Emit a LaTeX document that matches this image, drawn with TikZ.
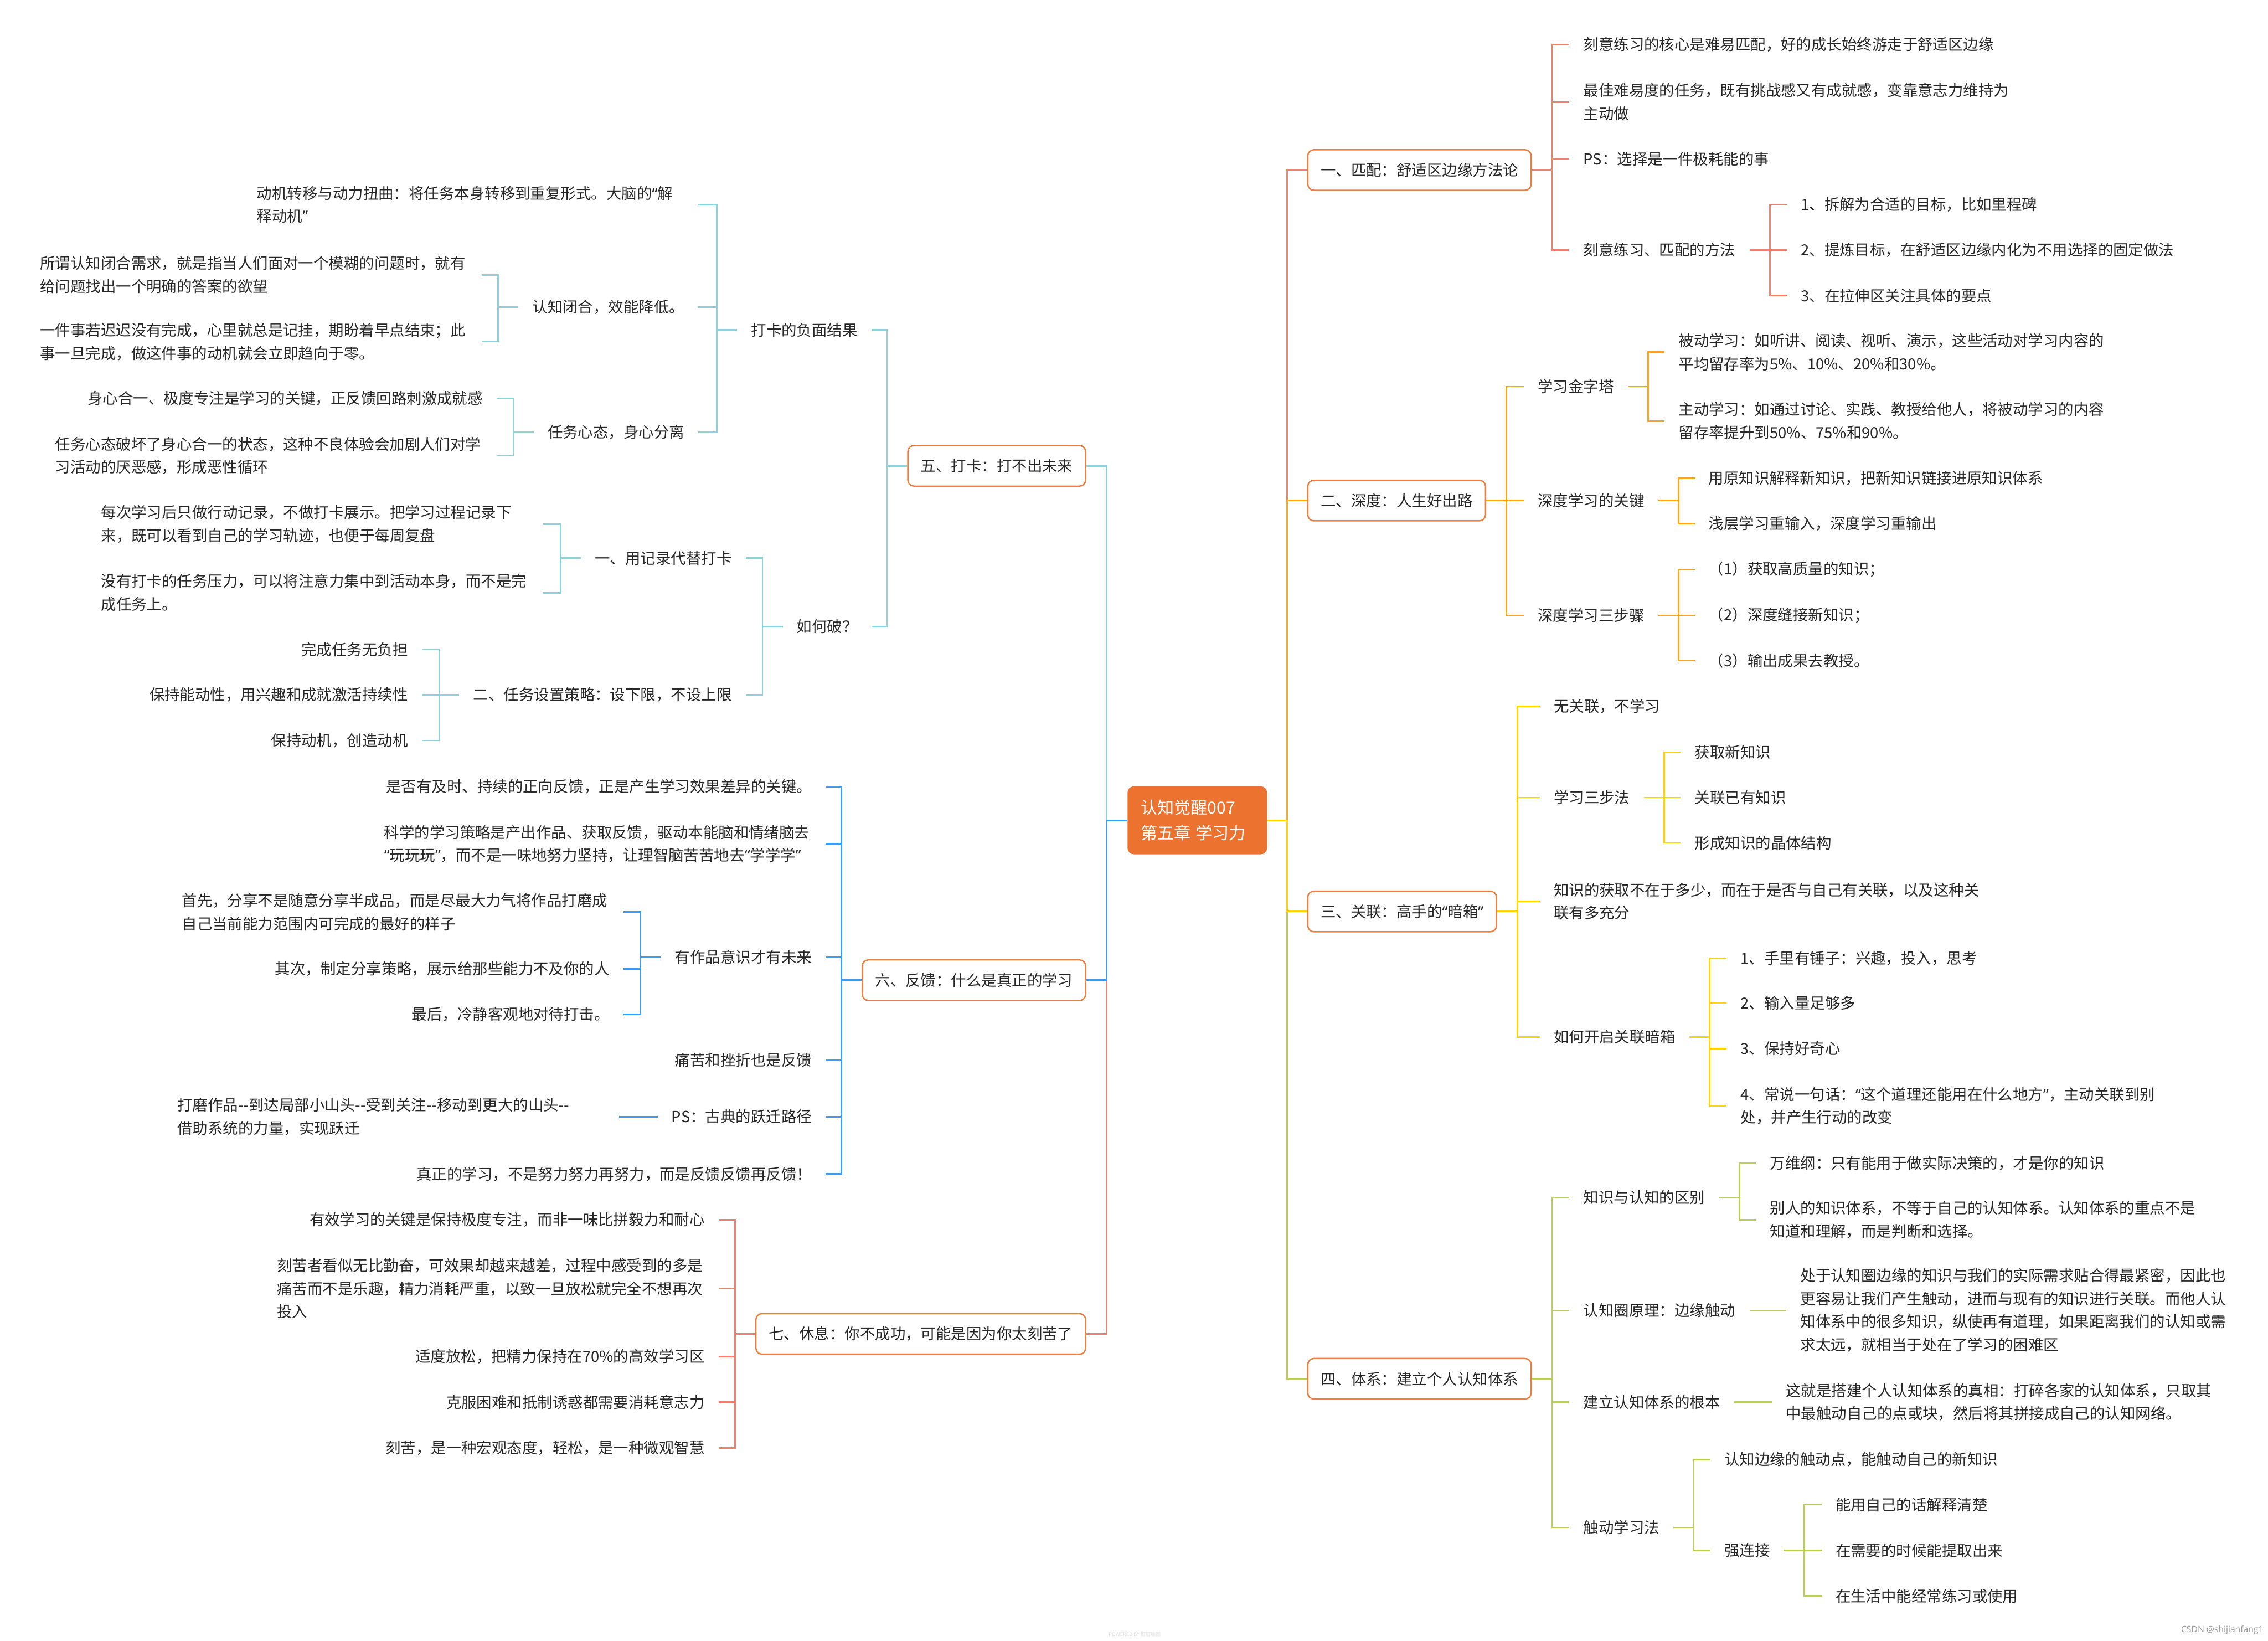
\documentclass[tikz,border=0pt]{standalone}
\usepackage{fontspec}
\setmainfont{Noto Sans CJK SC}
\newfontfamily\osans{Open Sans}
\newfontfamily\qf{Noto Sans}
\newcommand\qo{{\qf “}}
\newcommand\qc{{\qf ”}}
\newlength\U
\setlength\U{0.030434cm}
\definecolor{csal}{HTML}{F0806E}
\definecolor{cora}{HTML}{F6A623}
\definecolor{cyel}{HTML}{FFD400}
\definecolor{cgrn}{HTML}{B9CF58}
\definecolor{ctea}{HTML}{8ED3DB}
\definecolor{cblu}{HTML}{3C9CF0}
\definecolor{boxor}{HTML}{EE7D3E}
\definecolor{rootor}{HTML}{EC7230}
\definecolor{txtc}{HTML}{262626}
\newcommand\fs{\fontsize{9.1pt}{13.8pt}\selectfont}
\newcommand\linkR[3]{\draw[#1] (#2.east) -- ++(14,0) |- (#3.west);}
\newcommand\linkL[3]{\draw[#1] (#2.west) -- ++(-14,0) |- (#3.east);}
\newcommand\dd{\mbox{-}\mbox{-}}
\tikzset{
  txt/.style={font=\fs, text=txtc, inner xsep=9.5\U, inner ysep=1pt},
  tR/.style={txt, anchor=west},
  tL/.style={txt, anchor=east},
  wR/.style={tR, text width=256pt, align=left},
  wL/.style={tL, text width=256pt, align=left},
  mainbox/.style={font=\fs, text=txtc, draw=boxor, line width=0.8pt, rounded corners=3.6pt, fill=white, minimum height=28\U, inner xsep=8.9\U, inner ysep=0pt},
  mR/.style={mainbox, anchor=west},
  mL/.style={mainbox, anchor=east},
  rootbox/.style={font=\fontsize{10pt}{15pt}\selectfont, text=white, fill=rootor, rounded corners=3.8pt, minimum height=47\U, inner xsep=9.1\U, inner ysep=0pt, text width=78.3\U, align=left},
  lk/.style={line width=0.9pt},
  cA/.style={lk, draw=csal},
  cB/.style={lk, draw=cora},
  cC/.style={lk, draw=cyel},
  cD/.style={lk, draw=cgrn},
  cE/.style={lk, draw=ctea},
  cF/.style={lk, draw=cblu},
  cG/.style={lk, draw=csal},
}
\begin{document}
\begin{tikzpicture}[x=0.030434cm, y=-0.030434cm]
\useasboundingbox[fill=white] (0,0) rectangle (1568,1134.27);

% root
\node[rootbox] (r) at (827.75,567) {认知觉醒007\\第五章\hspace{0.3em}学习力};

% ---------- right side ----------
\node[mR] (m1) at (903.7,117.5) {一、匹配：舒适区边缘方法论};
\node[tR] (a1) at (1085,30.8) {刻意练习的核心是难易匹配，好的成长始终游走于舒适区边缘};
\node[wR] (a2) at (1085,70.5) {最佳难易度的任务，既有挑战感又有成就感，变靠意志力维持为\\主动做};
\node[tR] (a3) at (1085,109.7) {PS：选择是一件极耗能的事};
\node[tR] (a4) at (1085,172.8) {刻意练习、匹配的方法};
\node[tR] (a41) at (1235.3,141.3) {1、拆解为合适的目标，比如里程碑};
\node[tR] (a42) at (1235.3,172.8) {2、提炼目标，在舒适区边缘内化为不用选择的固定做法};
\node[tR] (a43) at (1235.3,204.3) {3、在拉伸区关注具体的要点};

\node[mR] (m2) at (903.7,346) {二、深度：人生好出路};
\node[tR] (b1) at (1053.5,267.2) {学习金字塔};
\node[wR] (b11) at (1150.8,243.4) {被动学习：如听讲、阅读、视听、演示，这些活动对学习内容的\\平均留存率为5\%、10\%、20\%和30\%。};
\node[wR] (b12) at (1150.8,291) {主动学习：如通过讨论、实践、教授给他人，将被动学习的内容\\留存率提升到50\%、75\%和90\%。};
\node[tR] (b2) at (1053.5,346) {深度学习的关键};
\node[tR] (b21) at (1171.6,330.6) {用原知识解释新知识，把新知识链接进原知识体系};
\node[tR] (b22) at (1171.6,362) {浅层学习重输入，深度学习重输出};
\node[tR] (b3) at (1053.5,425.3) {深度学习三步骤};
\node[tR] (b31) at (1171.6,393.5) {（1）获取高质量的知识；};
\node[tR] (b32) at (1171.6,425.3) {（2）深度缝接新知识；};
\node[tR] (b33) at (1171.6,456.7) {（3）输出成果去教授。};

\node[mR] (m3) at (903.7,630) {三、关联：高手的\qo 暗箱\qc};
\node[tR] (c1) at (1064.5,488.3) {无关联，不学习};
\node[tR] (c2) at (1064.5,551.2) {学习三步法};
\node[tR] (c21) at (1162,519.8) {获取新知识};
\node[tR] (c22) at (1162,551.2) {关联已有知识};
\node[tR] (c23) at (1162,582.6) {形成知识的晶体结构};
\node[wR] (c3) at (1064.5,623) {知识的获取不在于多少，而在于是否与自己有关联，以及这种关\\联有多充分};
\node[tR] (c4) at (1064.5,716.7) {如何开启关联暗箱};
\node[tR] (c41) at (1193.7,662.3) {1、手里有锤子：兴趣，投入，思考};
\node[tR] (c42) at (1193.7,693.3) {2、输入量足够多};
\node[tR] (c43) at (1193.7,724.8) {3、保持好奇心};
\node[wR] (c44) at (1193.7,764.4) {4、常说一句话：\qo 这个道理还能用在什么地方\qc，主动关联到别\\处，并产生行动的改变};

\node[mR] (m4) at (903.7,953) {四、体系：建立个人认知体系};
\node[tR] (d1) at (1085,827.7) {知识与认知的区别};
\node[tR] (d11) at (1214,803.9) {万维纲：只有能用于做实际决策的，才是你的知识};
\node[wR] (d12) at (1214,843) {别人的知识体系，不等于自己的认知体系。认知体系的重点不是\\知道和理解，而是判断和选择。};
\node[tR] (d2) at (1085,905.7) {认知圈原理：边缘触动};
\node[wR] (d21) at (1235,905.7) {处于认知圈边缘的知识与我们的实际需求贴合得最紧密，因此也\\更容易让我们产生触动，进而与现有的知识进行关联。而他人认\\知体系中的很多知识，纵使再有道理，如果距离我们的认知或需\\求太远，就相当于处在了学习的困难区};
\node[tR] (d3) at (1085,969.2) {建立认知体系的根本};
\node[wR] (d31) at (1225,969.2) {这就是搭建个人认知体系的真相：打碎各家的认知体系，只取其\\中最触动自己的点或块，然后将其拼接成自己的认知网络。};
\node[tR] (d4) at (1085,1055.8) {触动学习法};
\node[tR] (d41) at (1182.4,1009) {认知边缘的触动点，能触动自己的新知识};
\node[tR] (d42) at (1182.4,1071.7) {强连接};
\node[tR] (d421) at (1259.3,1040.1) {能用自己的话解释清楚};
\node[tR] (d422) at (1259.3,1071.7) {在需要的时候能提取出来};
\node[tR] (d423) at (1259.3,1103.1) {在生活中能经常练习或使用};

% ---------- left side ----------
\node[mL] (m5) at (751,322) {五、打卡：打不出未来};
\node[tL] (e1) at (602.6,228) {打卡的负面结果};
\node[wL] (e11) at (482.9,141.5) {动机转移与动力扭曲：将任务本身转移到重复形式。大脑的\qo 解\\释动机\qc};
\node[tL] (e12) at (482.9,212.3) {认知闭合，效能降低。};
\node[wL] (e121) at (333,190) {所谓认知闭合需求，就是指当人们面对一个模糊的问题时，就有\\给问题找出一个明确的答案的欲望};
\node[wL] (e122) at (333,236.2) {一件事若迟迟没有完成，心里就总是记挂，期盼着早点结束；此\\事一旦完成，做这件事的动机就会立即趋向于零。};
\node[tL] (e13) at (482.9,298.8) {任务心态，身心分离};
\node[tL] (e131) at (343.5,275.2) {身心合一、极度专注是学习的关键，正反馈回路刺激成就感};
\node[wL] (e132) at (343.5,315) {任务心态破坏了身心合一的状态，这种不良体验会加剧人们对学\\习活动的厌恶感，形成恶性循环};
\node[tL] (e2) at (602.6,433.1) {如何破？};
\node[tL] (e21) at (515.6,385.8) {一、用记录代替打卡};
\node[wL] (e211) at (375.2,362.2) {每次学习后只做行动记录，不做打卡展示。把学习过程记录下\\来，既可以看到自己的学习轨迹，也便于每周复盘};
\node[wL] (e212) at (375.2,409.7) {没有打卡的任务压力，可以将注意力集中到活动本身，而不是完\\成任务上。};
\node[tL] (e22) at (515.6,480.2) {二、任务设置策略：设下限，不设上限};
\node[tL] (e221) at (291.7,448.9) {完成任务无负担};
\node[tL] (e222) at (291.7,480.2) {保持能动性，用兴趣和成就激活持续性};
\node[tL] (e223) at (291.7,511.8) {保持动机，创造动机};

\node[mL] (m6) at (751,677.5) {六、反馈：什么是真正的学习};
\node[tL] (f1) at (570.9,543.7) {是否有及时、持续的正向反馈，正是产生学习效果差异的关键。};
\node[wL] (f2) at (570.9,583.3) {科学的学习策略是产出作品、获取反馈，驱动本能脑和情绪脑去\\\qo 玩玩玩\qc，而不是一味地努力坚持，让理智脑苦苦地去\qo 学学学\qc};
\node[tL] (f3) at (570.9,661.6) {有作品意识才有未来};
\node[wL] (f31) at (431.1,630.4) {首先，分享不是随意分享半成品，而是尽最大力气将作品打磨成\\自己当前能力范围内可完成的最好的样子};
\node[tL] (f32) at (431.1,669.7) {其次，制定分享策略，展示给那些能力不及你的人};
\node[tL] (f33) at (431.1,701.2) {最后，冷静客观地对待打击。};
\node[tL] (f4) at (570.9,732.7) {痛苦和挫折也是反馈};
\node[tL] (f5) at (570.9,771.9) {PS：古典的跃迁路径};
\node[wL] (f51) at (428,771.9) {打磨作品\dd 到达局部小山头\dd 受到关注\dd 移动到更大的山头\dd\\借助系统的力量，实现跃迁};
\node[tL] (f6) at (570.9,811.5) {真正的学习，不是努力努力再努力，而是反馈反馈再反馈！};

\node[mL] (m7) at (751,922) {七、休息：你不成功，可能是因为你太刻苦了};
\node[tL] (g1) at (496.9,843.2) {有效学习的关键是保持极度专注，而非一味比拼毅力和耐心};
\node[wL] (g2) at (496.9,890.7) {刻苦者看似无比勤奋，可效果却越来越差，过程中感受到的多是\\痛苦而不是乐趣，精力消耗严重，以致一旦放松就完全不想再次\\投入};
\node[tL] (g3) at (496.9,937.7) {适度放松，把精力保持在70\%的高效学习区};
\node[tL] (g4) at (496.9,969.2) {克服困难和抵制诱惑都需要消耗意志力};
\node[tL] (g5) at (496.9,1000.8) {刻苦，是一种宏观态度，轻松，是一种微观智慧};

% ---------- connectors: root to main topics ----------
\draw[cA] (r.east) -- ++(13.5,0) |- (m1.west);
\draw[cB] (r.east) -- ++(13.5,0) |- (m2.west);
\draw[cD] (r.east) -- ++(13.5,0) |- (m4.west);
\draw[cC] (r.east) -- ++(13.5,0) |- (m3.west);
\draw[cE] (r.west) -- ++(-14,0) |- (m5.east);
\draw[cG] (r.west) -- ++(-14,0) |- (m7.east);
\draw[cF] (r.west) -- ++(-14,0) |- (m6.east);

% branch 1
\linkR{cA}{m1}{a1}\linkR{cA}{m1}{a2}\linkR{cA}{m1}{a3}\linkR{cA}{m1}{a4}
\linkR{cA}{a4}{a41}\linkR{cA}{a4}{a42}\linkR{cA}{a4}{a43}
% branch 2
\linkR{cB}{m2}{b1}\linkR{cB}{m2}{b2}\linkR{cB}{m2}{b3}
\linkR{cB}{b1}{b11}\linkR{cB}{b1}{b12}
\linkR{cB}{b2}{b21}\linkR{cB}{b2}{b22}
\linkR{cB}{b3}{b31}\linkR{cB}{b3}{b32}\linkR{cB}{b3}{b33}
% branch 3
\linkR{cC}{m3}{c1}\linkR{cC}{m3}{c2}\linkR{cC}{m3}{c3}\linkR{cC}{m3}{c4}
\linkR{cC}{c2}{c21}\linkR{cC}{c2}{c22}\linkR{cC}{c2}{c23}
\linkR{cC}{c4}{c41}\linkR{cC}{c4}{c42}\linkR{cC}{c4}{c43}\linkR{cC}{c4}{c44}
% branch 4
\linkR{cD}{m4}{d1}\linkR{cD}{m4}{d2}\linkR{cD}{m4}{d3}\linkR{cD}{m4}{d4}
\linkR{cD}{d1}{d11}\linkR{cD}{d1}{d12}
\draw[cD] (d2.east) -- (d21.west);
\draw[cD] (d3.east) -- (d31.west);
\linkR{cD}{d4}{d41}\linkR{cD}{d4}{d42}
\linkR{cD}{d42}{d421}\linkR{cD}{d42}{d422}\linkR{cD}{d42}{d423}
% branch 5
\linkL{cE}{m5}{e1}\linkL{cE}{m5}{e2}
\linkL{cE}{e1}{e11}\linkL{cE}{e1}{e12}\linkL{cE}{e1}{e13}
\linkL{cE}{e12}{e121}\linkL{cE}{e12}{e122}
\linkL{cE}{e13}{e131}\linkL{cE}{e13}{e132}
\linkL{cE}{e2}{e21}\linkL{cE}{e2}{e22}
\linkL{cE}{e21}{e211}\linkL{cE}{e21}{e212}
\linkL{cE}{e22}{e221}\linkL{cE}{e22}{e222}\linkL{cE}{e22}{e223}
% branch 6
\linkL{cF}{m6}{f1}\linkL{cF}{m6}{f2}\linkL{cF}{m6}{f3}\linkL{cF}{m6}{f4}\linkL{cF}{m6}{f5}\linkL{cF}{m6}{f6}
\linkL{cF}{f3}{f31}\linkL{cF}{f3}{f32}\linkL{cF}{f3}{f33}
\draw[cF] (f5.west) -- (f51.east);
% branch 7
\linkL{cG}{m7}{g1}\linkL{cG}{m7}{g2}\linkL{cG}{m7}{g3}\linkL{cG}{m7}{g4}\linkL{cG}{m7}{g5}

% watermarks
\node[font=\fontsize{3pt}{4pt}\selectfont, text=black!13, inner sep=0pt] (wm) at (784.5,1129.8) {POWERED BY 钉钉脑图};
\node[font=\osans\fontsize{5.2pt}{6pt}\selectfont, text=black!40, anchor=east, inner sep=0pt] (csdn) at (1565,1126.8) {CSDN @shijianfang1};
\end{tikzpicture}
\end{document}
